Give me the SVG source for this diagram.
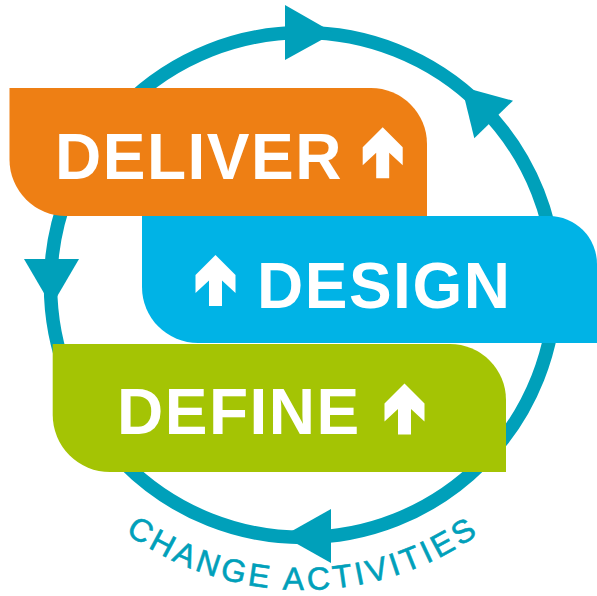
<svg xmlns="http://www.w3.org/2000/svg" width="597" height="596" viewBox="0 0 597 596">
  <style>
    .ring { fill: none; stroke: #00a0ba; stroke-width: 13.5; }
    .head { fill: #00a0ba; }
    .label { font-family: "Liberation Sans", Arial, sans-serif; font-weight: bold; font-size: 64px; fill: #ffffff; letter-spacing: 1.5px; }
    .up { fill: #ffffff; }
    .caption { font-family: "Liberation Sans", Arial, sans-serif; font-size: 32px; fill: #00a0ba; stroke: #00a0ba; stroke-width: 0.6px; letter-spacing: 3.6px; }
  </style>
  <defs>
    <path id="uparrow" d="M0,0 L20,20 L20,38 L6.5,25.5 L6.5,51 L-6.5,51 L-6.5,25.5 L-20,38 L-20,20 Z"/>
    <path id="captionPath" d="M38.9,437.5 A305,305 0 0 0 567.1,437.5"/>
  </defs>

  <g id="connectors">
    <circle class="ring" cx="303" cy="285" r="252.5"/>
    <polygon class="head" points="285,5 285,60 334,33"/>
    <polygon class="head" points="513,100.7 474.3,138.3 461.7,86.7"/>
    <polygon class="head" points="24,259 79,259 51.5,306"/>
    <polygon class="head" points="331,509 331,563 283,536"/>
  </g>

  <g id="deliver">
    <path fill="#ee7f14" d="M9.5,88 H371 A56,56 0 0 1 427,144 V216 H66 A56.5,56.5 0 0 1 9.5,159.5 Z"/>
    <text class="label" x="55" y="179">DELIVER</text>
    <use href="#uparrow" class="up" x="382.7" y="127.3"/>
  </g>

  <g id="design">
    <path fill="#00b3e6" d="M142,216 H549 A48,48 0 0 1 597,264 V343 H198 A56,56 0 0 1 142,287 Z"/>
    <use href="#uparrow" class="up" x="215.5" y="255"/>
    <text class="label" x="257" y="308">DESIGN</text>
  </g>

  <g id="define">
    <path fill="#a4c404" d="M52.7,344 H450 A56,56 0 0 1 506,400 V472 H110 A57.3,57.3 0 0 1 52.7,414.7 Z"/>
    <text class="label" x="117" y="434">DEFINE</text>
    <use href="#uparrow" class="up" x="404.5" y="383.5"/>
  </g>

  <g id="caption">
    <text class="caption"><textPath href="#captionPath" startOffset="50%" text-anchor="middle">CHANGE ACTIVITIES</textPath></text>
  </g>
</svg>
